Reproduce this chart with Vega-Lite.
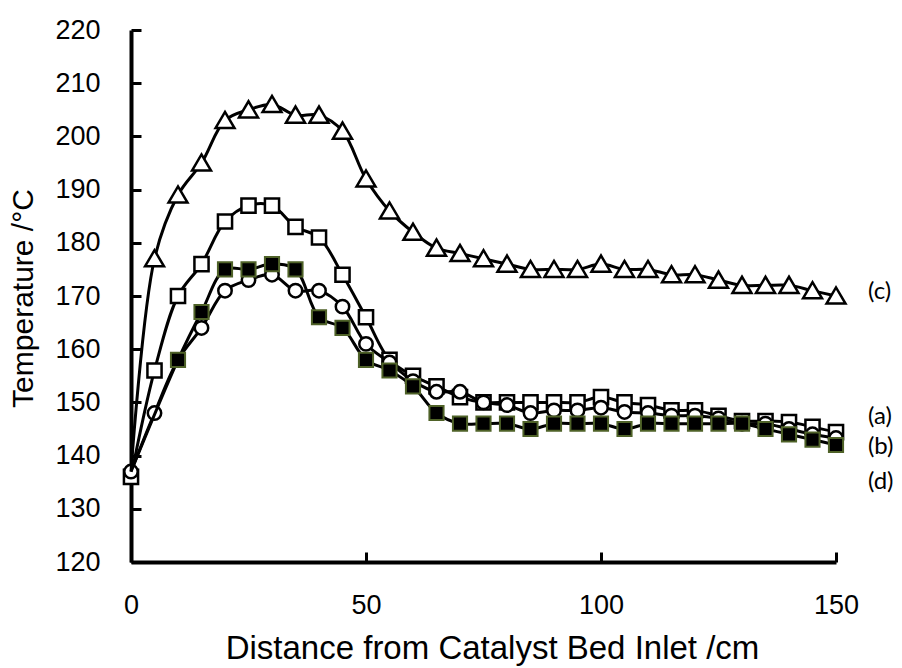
{
  "$schema": "https://vega.github.io/schema/vega-lite/v6.json",
  "autosize": {"type": "none"},
  "padding": {"left": 131, "top": 30, "right": 66, "bottom": 106},
  "width": 705,
  "height": 532,
  "background": "white",
  "config": {
    "view": {"stroke": null},
    "axis": {
      "grid": false,
      "domainColor": "black",
      "domainWidth": 4,
      "tickColor": "black",
      "tickWidth": 3,
      "tickSize": -10,
      "labelColor": "black",
      "labelFont": "Liberation Sans",
      "titleFont": "Liberation Sans",
      "titleColor": "black",
      "titleFontWeight": "normal"
    }
  },
  "data": {
    "values": [
      {"s": "a", "x": 0, "y": 136}, {"s": "a", "x": 5, "y": 156}, {"s": "a", "x": 10, "y": 170}, {"s": "a", "x": 15, "y": 176}, {"s": "a", "x": 20, "y": 184}, {"s": "a", "x": 25, "y": 187}, {"s": "a", "x": 30, "y": 187}, {"s": "a", "x": 35, "y": 183}, {"s": "a", "x": 40, "y": 181}, {"s": "a", "x": 45, "y": 174}, {"s": "a", "x": 50, "y": 166}, {"s": "a", "x": 55, "y": 158}, {"s": "a", "x": 60, "y": 155}, {"s": "a", "x": 65, "y": 153}, {"s": "a", "x": 70, "y": 151}, {"s": "a", "x": 75, "y": 150}, {"s": "a", "x": 80, "y": 150}, {"s": "a", "x": 85, "y": 150}, {"s": "a", "x": 90, "y": 150}, {"s": "a", "x": 95, "y": 150}, {"s": "a", "x": 100, "y": 151}, {"s": "a", "x": 105, "y": 150}, {"s": "a", "x": 110, "y": 149.5}, {"s": "a", "x": 115, "y": 148.5}, {"s": "a", "x": 120, "y": 148.5}, {"s": "a", "x": 125, "y": 147.5}, {"s": "a", "x": 130, "y": 146.5}, {"s": "a", "x": 135, "y": 146.5}, {"s": "a", "x": 140, "y": 146.3}, {"s": "a", "x": 145, "y": 145.4}, {"s": "a", "x": 150, "y": 144.4},
      {"s": "b", "x": 0, "y": 137}, {"s": "b", "x": 5, "y": 148}, {"s": "b", "x": 10, "y": 158}, {"s": "b", "x": 15, "y": 164}, {"s": "b", "x": 20, "y": 171}, {"s": "b", "x": 25, "y": 173}, {"s": "b", "x": 30, "y": 174}, {"s": "b", "x": 35, "y": 171}, {"s": "b", "x": 40, "y": 171}, {"s": "b", "x": 45, "y": 168}, {"s": "b", "x": 50, "y": 161}, {"s": "b", "x": 55, "y": 157.5}, {"s": "b", "x": 60, "y": 154}, {"s": "b", "x": 65, "y": 152}, {"s": "b", "x": 70, "y": 152}, {"s": "b", "x": 75, "y": 150}, {"s": "b", "x": 80, "y": 149.5}, {"s": "b", "x": 85, "y": 148}, {"s": "b", "x": 90, "y": 148.5}, {"s": "b", "x": 95, "y": 148.5}, {"s": "b", "x": 100, "y": 149}, {"s": "b", "x": 105, "y": 148.2}, {"s": "b", "x": 110, "y": 148}, {"s": "b", "x": 115, "y": 147.5}, {"s": "b", "x": 120, "y": 147.5}, {"s": "b", "x": 125, "y": 147}, {"s": "b", "x": 130, "y": 146}, {"s": "b", "x": 135, "y": 146}, {"s": "b", "x": 140, "y": 145}, {"s": "b", "x": 145, "y": 144}, {"s": "b", "x": 150, "y": 143.3},
      {"s": "c", "x": 0, "y": 137}, {"s": "c", "x": 5, "y": 177}, {"s": "c", "x": 10, "y": 189}, {"s": "c", "x": 15, "y": 195}, {"s": "c", "x": 20, "y": 203}, {"s": "c", "x": 25, "y": 205}, {"s": "c", "x": 30, "y": 206}, {"s": "c", "x": 35, "y": 204}, {"s": "c", "x": 40, "y": 204}, {"s": "c", "x": 45, "y": 201}, {"s": "c", "x": 50, "y": 192}, {"s": "c", "x": 55, "y": 186}, {"s": "c", "x": 60, "y": 182}, {"s": "c", "x": 65, "y": 179}, {"s": "c", "x": 70, "y": 178}, {"s": "c", "x": 75, "y": 177}, {"s": "c", "x": 80, "y": 176}, {"s": "c", "x": 85, "y": 175}, {"s": "c", "x": 90, "y": 175}, {"s": "c", "x": 95, "y": 175}, {"s": "c", "x": 100, "y": 176}, {"s": "c", "x": 105, "y": 175}, {"s": "c", "x": 110, "y": 175}, {"s": "c", "x": 115, "y": 174}, {"s": "c", "x": 120, "y": 174}, {"s": "c", "x": 125, "y": 173}, {"s": "c", "x": 130, "y": 172}, {"s": "c", "x": 135, "y": 172}, {"s": "c", "x": 140, "y": 172}, {"s": "c", "x": 145, "y": 171}, {"s": "c", "x": 150, "y": 170},
      {"s": "d", "x": 0, "y": 137}, {"s": "d", "x": 10, "y": 158}, {"s": "d", "x": 15, "y": 167}, {"s": "d", "x": 20, "y": 175}, {"s": "d", "x": 25, "y": 175}, {"s": "d", "x": 30, "y": 176}, {"s": "d", "x": 35, "y": 175}, {"s": "d", "x": 40, "y": 166}, {"s": "d", "x": 45, "y": 164}, {"s": "d", "x": 50, "y": 158}, {"s": "d", "x": 55, "y": 156}, {"s": "d", "x": 60, "y": 153}, {"s": "d", "x": 65, "y": 148}, {"s": "d", "x": 70, "y": 146}, {"s": "d", "x": 75, "y": 146}, {"s": "d", "x": 80, "y": 146}, {"s": "d", "x": 85, "y": 145}, {"s": "d", "x": 90, "y": 146}, {"s": "d", "x": 95, "y": 146}, {"s": "d", "x": 100, "y": 146}, {"s": "d", "x": 105, "y": 145}, {"s": "d", "x": 110, "y": 146}, {"s": "d", "x": 115, "y": 146}, {"s": "d", "x": 120, "y": 146}, {"s": "d", "x": 125, "y": 146}, {"s": "d", "x": 130, "y": 146}, {"s": "d", "x": 135, "y": 145}, {"s": "d", "x": 140, "y": 144}, {"s": "d", "x": 145, "y": 143}, {"s": "d", "x": 150, "y": 142}
    ]
  },
  "encoding": {
    "x": {
      "field": "x", "type": "quantitative",
      "scale": {"domain": [0, 150], "nice": false},
      "axis": {
        "values": [0, 50, 100, 150],
        "title": "Distance from Catalyst Bed Inlet /cm",
        "labelFontSize": 27,
        "labelPadding": 40,
        "labelFlush": false,
        "titleFontSize": 33,
        "titleX": 361,
        "titleY": 86,
        "titleBaseline": "middle",
        "titleAlign": "center"
      }
    },
    "y": {
      "field": "y", "type": "quantitative",
      "scale": {"domain": [120, 220], "nice": false, "zero": false},
      "axis": {
        "values": [120, 130, 140, 150, 160, 170, 180, 190, 200, 210, 220],
        "title": "Temperature /°C",
        "labelFontSize": 27,
        "labelPadding": 41,
        "labelFlush": false,
        "titleFontSize": 30,
        "titleAngle": -90,
        "titleX": -108,
        "titleY": 268,
        "titleBaseline": "middle",
        "titleAlign": "center"
      }
    }
  },
  "layer": [
    {"transform": [{"filter": "datum.s === 'a'"}], "mark": {"type": "line", "color": "black", "strokeWidth": 3, "interpolate": "catmull-rom"}},
    {"transform": [{"filter": "datum.s === 'a'"}], "mark": {"type": "point", "shape": "square", "size": 200, "filled": true, "fill": "white", "stroke": "black", "strokeWidth": 2.5, "opacity": 1}},
    {"transform": [{"filter": "datum.s === 'b'"}], "mark": {"type": "line", "color": "black", "strokeWidth": 3, "interpolate": "catmull-rom"}},
    {"transform": [{"filter": "datum.s === 'b'"}], "mark": {"type": "point", "shape": "circle", "size": 180, "filled": true, "fill": "white", "stroke": "black", "strokeWidth": 2.5, "opacity": 1}},
    {"transform": [{"filter": "datum.s === 'c'"}], "mark": {"type": "line", "color": "black", "strokeWidth": 3, "interpolate": "catmull-rom"}},
    {"transform": [{"filter": "datum.s === 'c' && datum.x > 0"}], "mark": {"type": "point", "shape": "M-1,0.8L0,-0.9L1,0.8Z", "size": 360, "filled": true, "fill": "white", "stroke": "black", "strokeWidth": 2.5, "opacity": 1}},
    {"transform": [{"filter": "datum.s === 'd'"}], "mark": {"type": "line", "color": "black", "strokeWidth": 3, "interpolate": "catmull-rom"}},
    {"transform": [{"filter": "datum.s === 'd' && datum.x > 0"}], "mark": {"type": "point", "shape": "square", "size": 200, "filled": true, "fill": "black", "stroke": "#4F6228", "strokeWidth": 2, "opacity": 1}},
    {
      "data": {"values": [
        {"label": "(c)", "x": 156.8, "y": 170.75},
        {"label": "(a)", "x": 156.8, "y": 147.25},
        {"label": "(b)", "x": 156.8, "y": 141.7},
        {"label": "(d)", "x": 156.8, "y": 135.1}
      ]},
      "mark": {"type": "text", "align": "left", "baseline": "middle", "font": "Lato", "fontSize": 24, "color": "black", "clip": false},
      "encoding": {"text": {"field": "label"}}
    }
  ]
}
